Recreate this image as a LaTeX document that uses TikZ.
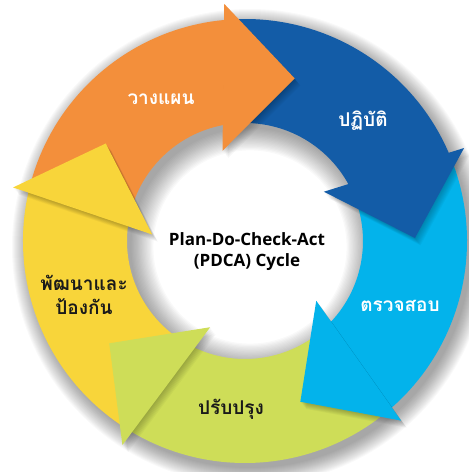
\documentclass[tikz,border=0pt]{standalone}
\usepackage{fontspec}
\setmainfont{Open Sans}
\newfontfamily\thaifont[Script=Thai]{Loma}
\usetikzlibrary{positioning}
\definecolor{planorange}{HTML}{F38F3B}
\definecolor{doblue}{HTML}{135CA7}
\definecolor{checkcyan}{HTML}{03B3EB}
\definecolor{actgreen}{HTML}{CEDD58}
\definecolor{guardyellow}{HTML}{F8D53A}
\definecolor{ink}{HTML}{1A1A1A}
\tikzset{
  stagelabel/.style={font={\thaifont\bfseries\fontsize{19}{24}\selectfont},
                     align=center,inner sep=0pt},
  hubtext/.style={font={\bfseries\fontsize{17}{21}\selectfont},
                  align=center,inner sep=0pt,color=black},
  ringshadow/.style={fill=black,opacity=0.022,even odd rule},
  headshadow/.style={fill=black,opacity=0.03}
}

\begin{document}
\begin{tikzpicture}[x=1pt,y=1pt]
  \useasboundingbox (0,0) rectangle (469,472);
  \begin{scope}[shift={(245,231)}]
    % soft shadow under the ring
    \foreach \k in {1,...,18}
      \fill[ringshadow] (5,-6) circle[radius=220+\k] (5,-6) circle[radius=120-1.3*\k];

    % ring segments, one per stage (tip angle / colour)
    \foreach \t/\col in {73/planorange,1/doblue,-71/checkcyan,-143/actgreen,-215/guardyellow} {
      \fill[\col] (\t+93:222) arc[start angle=\t+93,end angle=\t+21,radius=222]
        -- (\t+27:118) arc[start angle=\t+27,end angle=\t+99,radius=118] -- cycle;
    }

    % shadows cast by the heads
    \foreach \t in {73,1,-71,-143,-215} {
      \foreach \s in {1,...,8}
        \fill[headshadow,shift={(\s*0.7,-\s*0.9)}] (\t:170) -- (\t+22:238) -- (\t+31:93) -- cycle;
    }

    % arrow heads on top
    \foreach \t/\col in {73/planorange,1/doblue,-71/checkcyan,-143/actgreen,-215/guardyellow} {
      \fill[\col] (\t:170) -- (\t+22:238) -- (\t+31:93) -- cycle;
    }
  \end{scope}

  % stage names
  \node[stagelabel,white] (plan) at (161,373) {วางแผน};
  \node[stagelabel,white] (do) at (363,351) {ปฏิบัติ};
  \node[stagelabel,white] (check) at (400,166) {ตรวจสอบ};
  \node[stagelabel,ink] (act) at (231,63) {ปรับปรุง};
  \node[stagelabel,ink] (guard) at (84,177) {พัฒนาและ\\ป้องกัน};

  % title in the hole
  \node[hubtext] (hub) at (247,220) {Plan-Do-Check-Act\\(PDCA) Cycle};
\end{tikzpicture}
\end{document}
